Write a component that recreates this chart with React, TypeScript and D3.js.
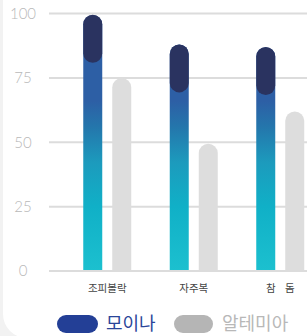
import * as d3 from "d3";

const categories = ["조피볼락", "자주복", "참 돔"];
const moinaValues = [99.5, 88, 87];
const altemiaValues = [75, 49.5, 62];
const yTicks = [0, 25, 50, 75, 100];
const seriesKeys = ["모이나", "알테미아"];

const W = 307;
const H = 336;
const CAP = 48; // dark top pill height
const R = 9.5;

// bar with rounded top and flat bottom
const topRounded = (x: number, y: number, w: number, bottom: number, r: number) =>
  `M${x},${bottom}V${y + r}A${r},${r} 0 0 1 ${x + w},${y + r}V${bottom}Z`;

const App = () => {
  const y = d3.scaleLinear().domain([0, 100]).range([271, 13.5]);
  const x0 = d3.scaleBand<string>().domain(categories).range([64, 323.5]);
  const x1 = d3
    .scaleBand<string>()
    .domain(seriesKeys)
    .range([x0.bandwidth() / 2 - 24, x0.bandwidth() / 2 + 24])
    .paddingInner(0.345);
  const bw = x1.bandwidth();
  const base = y(0) - 1;

  return (
    <svg
      width={W}
      height={H}
      style={{ position: "absolute", left: 0, top: 0 }}
      fontFamily="Lato, 'Noto Sans CJK KR', sans-serif"
    >
      <defs>
        <linearGradient id="moinaGrad" gradientUnits="userSpaceOnUse" x1="0" x2="0" y1={y(0)} y2={y(100)}>
          <stop offset="0" stopColor="#1cc0cf" />
          <stop offset="0.25" stopColor="#10b0c7" />
          <stop offset="0.42" stopColor="#1c9bbd" />
          <stop offset="0.56" stopColor="#2476ac" />
          <stop offset="0.66" stopColor="#2d5fa5" />
          <stop offset="1" stopColor="#2d5fa5" />
        </linearGradient>
      </defs>

      <rect width={W} height={H} fill="#f2f2f2" />
      <rect x={3} y={-40} width={340} height={378} rx={24} fill="#fff" />

      {yTicks.map((t) => (
        <g key={t}>
          <line x1={49} x2={W} y1={y(t)} y2={y(t)} stroke="#dcdcdc" strokeWidth={2} />
          <text
            x={23}
            y={y(t)}
            dy="0.36em"
            textAnchor="middle"
            fontSize={15}
            fontWeight={300}
            fill="#b8b8b8"
          >
            {t}
          </text>
        </g>
      ))}

      {categories.map((c, i) => {
        const gx = x0(c) as number;
        const mx = gx + (x1(seriesKeys[0]) as number);
        const ax = gx + (x1(seriesKeys[1]) as number);
        const mTop = y(moinaValues[i]);
        const aTop = y(altemiaValues[i]);
        return (
          <g key={c}>
            <path d={topRounded(ax, aTop, bw, base, R)} fill="#dddddd" />
            <path d={topRounded(mx, mTop, bw, base, R)} fill="url(#moinaGrad)" />
            <rect x={mx} y={mTop} width={bw} height={CAP} rx={R} fill="#2a3360" />
            <text
              x={gx + x0.bandwidth() / 2}
              y={288}
              dy="0.35em"
              textAnchor="middle"
              fontSize={10.5}
              wordSpacing={7}
              fill="#444"
              fontFamily="'Noto Sans CJK KR', sans-serif"
            >
              {c}
            </text>
          </g>
        );
      })}

      <g fontFamily="'Noto Sans CJK KR', sans-serif" fontSize={18}>
        <rect x={57} y={315} width={41} height={18} rx={9} fill="#233f96" />
        <text x={106} y={324} dy="0.36em" fill="#2a4599">
          {seriesKeys[0]}
        </text>
        <rect x={174} y={315} width={39} height={18} rx={9} fill="#b5b5b5" />
        <text x={222} y={324} dy="0.36em" fill="#b8b8b8">
          {seriesKeys[1]}
        </text>
      </g>
    </svg>
  );
};

export default App;
